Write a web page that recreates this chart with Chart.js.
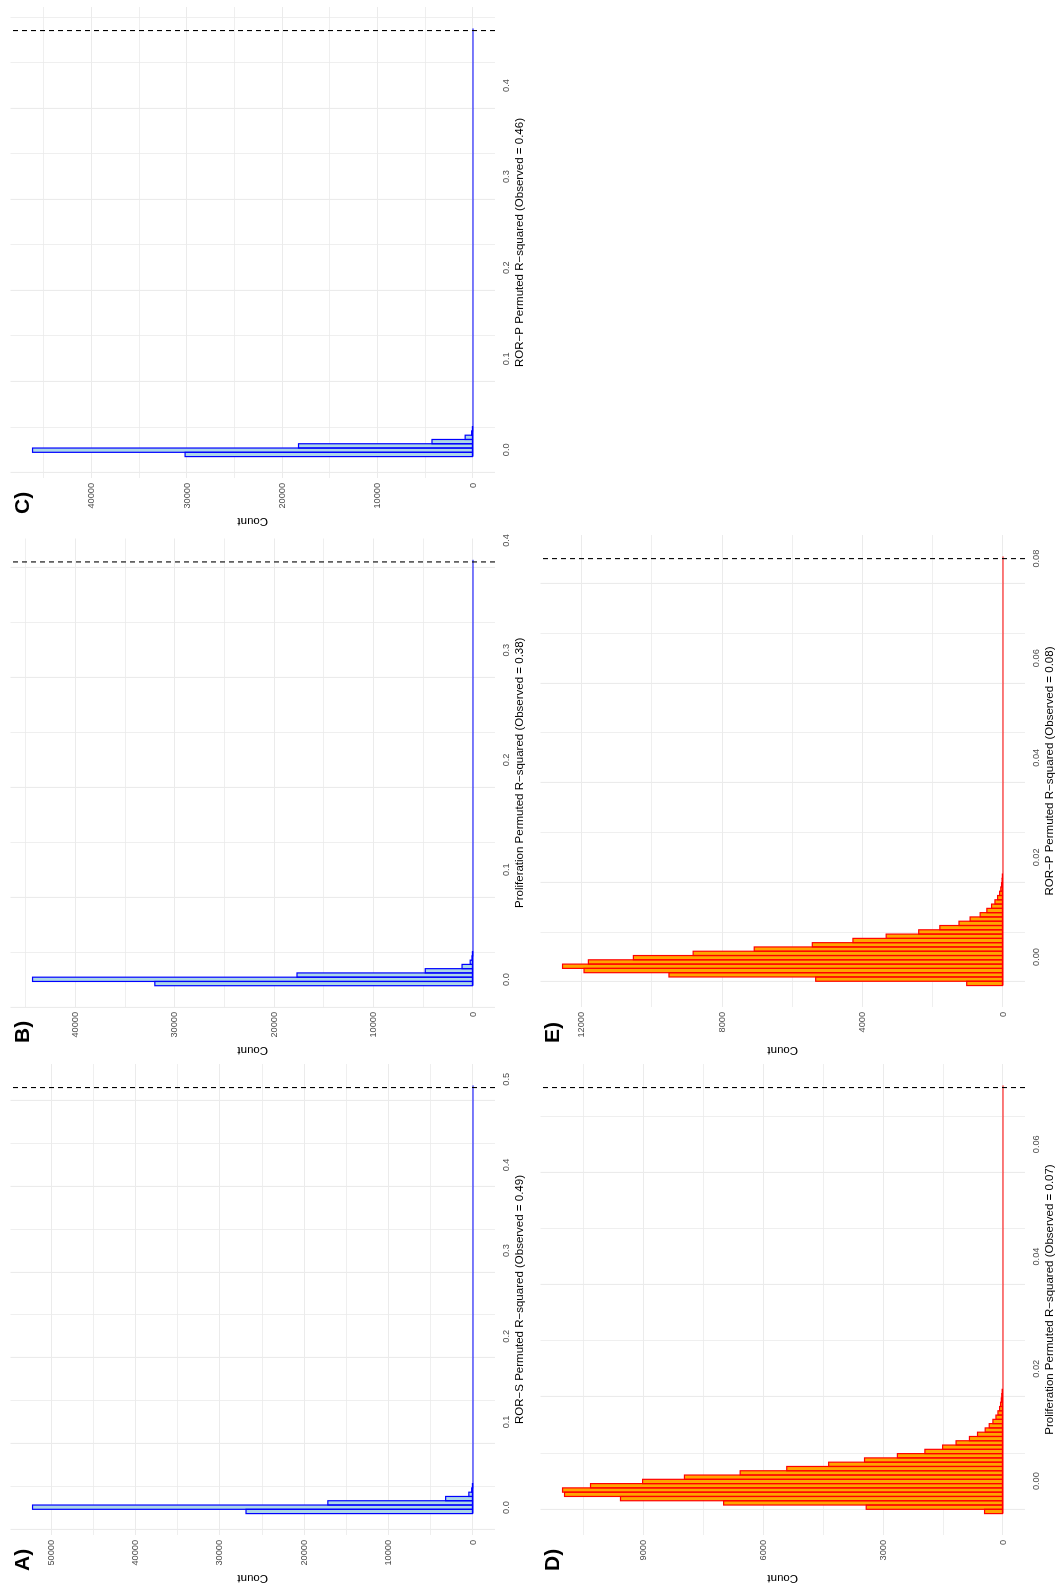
<!DOCTYPE html>
<html>
<head>
<meta charset="utf-8">
<script src="https://cdn.jsdelivr.net/npm/chart.js@4.4.0/dist/chart.umd.min.js"></script>
<style>
html,body{margin:0;padding:0;background:#fff;}
body{width:1061px;height:1585px;overflow:hidden;position:relative;}
#land{position:absolute;left:0;top:0;width:1585px;height:1061px;transform-origin:0 0;transform:translateY(1585px) rotate(-90deg);background:#fff;}
.panel{position:absolute;}
canvas{display:block;}
</style>
</head>
<body>
<div id="land">
  <div class="panel" style="left:0px;top:0px;width:528px;height:531px"><canvas id="cA" width="528" height="531"></canvas></div>
  <div class="panel" style="left:528px;top:0px;width:529px;height:531px"><canvas id="cB" width="529" height="531"></canvas></div>
  <div class="panel" style="left:1057px;top:0px;width:528px;height:531px"><canvas id="cC" width="528" height="531"></canvas></div>
  <div class="panel" style="left:0px;top:530px;width:528px;height:531px"><canvas id="cD" width="528" height="531"></canvas></div>
  <div class="panel" style="left:528px;top:530px;width:529px;height:531px"><canvas id="cE" width="529" height="531"></canvas></div>
</div>
<script>
// ---------------- DATA ----------------
const panelLabels = ['A)', 'B)', 'C)', 'D)', 'E)'];
const xTitles = [
  'ROR\u2212S Permuted R\u2212squared (Observed = 0.49)',
  'Proliferation Permuted R\u2212squared (Observed = 0.38)',
  'ROR\u2212P Permuted R\u2212squared (Observed = 0.46)',
  'Proliferation Permuted R\u2212squared (Observed = 0.07)',
  'ROR\u2212P Permuted R\u2212squared (Observed = 0.08)'
];
const yTitle = 'Count';

// observed R-squared (dashed line) per panel
const observed = [0.4904, 0.3804, 0.4604, 0.0701, 0.0800];
// histogram bins: centre of first bin and bin width (100 bins up to the observed value)
const firstBinCenter = [-0.0045, -0.0037, -0.0051, -0.0054, -0.0053];
const binWidth = [0.0050, 0.00388, 0.0047, 0.000763, 0.000861];

// counts per bin (remaining bins up to the observed value are empty / too small to see)
const countsA = [26900, 52200, 17200, 3240, 490, 150, 40];
const countsB = [32000, 44300, 17700, 4800, 1100, 280, 100, 30];
const countsC = [30200, 46200, 18300, 4300, 820, 140, 40];
const countsD = [461, 3422, 6990, 9570, 10970, 11020, 10320, 9017, 7970, 6576,
                 5410, 4362, 3464, 2642, 1954, 1510, 1174, 839, 637, 445,
                 344, 252, 176, 126, 84, 60, 42, 30, 20];
const countsE = [1033, 5335, 9514, 11933, 12545, 11809, 10527, 8825, 7085, 5431,
                 4274, 3327, 2400, 1798, 1253, 937, 650, 459, 325, 229,
                 153, 96, 62, 40, 26, 17];

// axis tick values
const xTicksA = [0.0, 0.1, 0.2, 0.3, 0.4, 0.5];
const xTicksB = [0.0, 0.1, 0.2, 0.3, 0.4];
const xTicksC = [0.0, 0.1, 0.2, 0.3, 0.4];
const xTicksD = [0.00, 0.02, 0.04, 0.06];
const xTicksE = [0.00, 0.02, 0.04, 0.06, 0.08];
const xDecimals = [1, 1, 1, 2, 2];
const yTicksA = [0, 10000, 20000, 30000, 40000, 50000];
const yTicksB = [0, 10000, 20000, 30000, 40000];
const yTicksC = [0, 10000, 20000, 30000, 40000];
const yTicksD = [0, 3000, 6000, 9000];
const yTicksE = [0, 4000, 8000, 12000];

// ---------------- STYLE ----------------
const FONT = '"Liberation Sans", Arial, Helvetica, sans-serif';
const blueFill = '#ADD8E6', blueLine = '#0000FF';
const orangeFill = '#FFA500', redLine = '#FF0000';
const gridColor = '#EBEBEB';

const labelPlugin = {
  id: 'panelLabel',
  afterDraw(chart, args, opts) {
    const ctx = chart.ctx;
    ctx.save();
    ctx.font = 'bold 21px ' + FONT;
    ctx.fillStyle = '#000';
    ctx.textAlign = 'left';
    ctx.textBaseline = 'alphabetic';
    ctx.fillText(opts.text, 14, 29);
    ctx.restore();
  }
};

// outline each histogram bar with a stroke centred on its edges (like ggplot)
const outlinePlugin = {
  id: 'barOutline',
  afterDatasetDraw(chart, args, opts) {
    const meta = args.meta;
    if (meta.type !== 'bar') return;
    const ctx = chart.ctx;
    ctx.save();
    ctx.strokeStyle = opts.color;
    ctx.lineWidth = opts.width;
    meta.data.forEach(el => {
      const p = el.getProps(['x', 'y', 'base', 'width'], true);
      ctx.strokeRect(p.x - p.width / 2, p.y, p.width, p.base - p.y);
    });
    ctx.restore();
  }
};

function round9(v) { return Math.round(v * 1e9) / 1e9; }
function withMinor(majors, lo, hi) {
  const step = majors[1] - majors[0];
  const set = new Set();
  majors.forEach(m => {
    [m - step / 2, m, m + step / 2].forEach(v => {
      const r = round9(v);
      if (r >= lo && r <= hi) set.add(r);
    });
  });
  return Array.from(set).sort((a, b) => a - b);
}
function isMajor(v, majors) { return majors.some(m => Math.abs(m - v) < 1e-9); }

function makePanel(idx, canvasId, counts, xTicks, yTicks, fill, stroke) {
  const c0 = firstBinCenter[idx], w = binWidth[idx], obs = observed[idx];
  const bars = counts.map((c, i) => ({ x: c0 + i * w, y: c }));
  const firstEdge = c0 - w / 2, lastEdge = obs + w / 2;
  const span = lastEdge - firstEdge;
  const xMin = firstEdge - 0.05 * span, xMax = lastEdge + 0.05 * span;
  const maxC = Math.max(...counts);
  const yMin = -0.05 * maxC, yMax = 1.05 * maxC;
  const xAll = withMinor(xTicks, xMin, xMax);
  const yAll = withMinor(yTicks, yMin, yMax);
  const dec = xDecimals[idx];

  new Chart(document.getElementById(canvasId), {
    type: 'bar',
    data: {
      datasets: [
        { type: 'line', data: [{ x: obs, y: yMin }, { x: obs, y: yMax }],
          borderColor: '#000', borderWidth: 1.1, borderDash: [5, 4],
          pointRadius: 0, fill: false, tension: 0 },
        { type: 'line', data: [{ x: firstEdge, y: 0 }, { x: lastEdge, y: 0 }],
          borderColor: stroke, borderWidth: 1.2, pointRadius: 0, fill: false, tension: 0 },
        { type: 'bar', data: bars, backgroundColor: fill, borderWidth: 0,
          inflateAmount: 0, barPercentage: 1.0, categoryPercentage: 1.0 }
      ]
    },
    options: {
      responsive: false,
      animation: false,
      devicePixelRatio: 1,
      layout: { padding: { left: 0, top: 7, right: 7, bottom: 0 } },
      plugins: { legend: { display: false }, tooltip: { enabled: false },
                 panelLabel: { text: panelLabels[idx] },
                 barOutline: { color: stroke, width: 1.2 } },
      scales: {
        x: {
          type: 'linear', min: xMin, max: xMax, offset: false,
          afterBuildTicks: s => { s.ticks = xAll.map(v => ({ value: v })); },
          afterFit: s => { s.height = 36; },
          ticks: { autoSkip: false, maxRotation: 0, minRotation: 0, padding: 6,
                   color: '#4D4D4D', font: { family: FONT, size: 9.2 },
                   callback: v => isMajor(v, xTicks) ? Number(v).toFixed(dec) : '' },
          grid: { color: gridColor, drawTicks: false,
                  lineWidth: c => (c.tick && isMajor(c.tick.value, xTicks)) ? 1.1 : 0.8 },
          border: { display: false },
          title: { display: true, text: xTitles[idx], color: '#000',
                   font: { family: FONT, size: 11.5 }, padding: { top: 0, bottom: 4 } }
        },
        y: {
          type: 'linear', min: yMin, max: yMax,
          afterBuildTicks: s => { s.ticks = yAll.map(v => ({ value: v })); },
          afterFit: s => { s.width = 50; },
          ticks: { autoSkip: false, padding: 5, color: '#4D4D4D',
                   font: { family: FONT, size: 9.2 },
                   callback: v => isMajor(v, yTicks) ? String(v) : '' },
          grid: { color: gridColor, drawTicks: false,
                  lineWidth: c => (c.tick && isMajor(c.tick.value, yTicks)) ? 1.1 : 0.8 },
          border: { display: false },
          title: { display: true, text: yTitle, color: '#000',
                   font: { family: FONT, size: 11.5 }, padding: { top: 0, bottom: 0 } }
        }
      }
    },
    plugins: [labelPlugin, outlinePlugin]
  });
}

makePanel(0, 'cA', countsA, xTicksA, yTicksA, blueFill, blueLine);
makePanel(1, 'cB', countsB, xTicksB, yTicksB, blueFill, blueLine);
makePanel(2, 'cC', countsC, xTicksC, yTicksC, blueFill, blueLine);
makePanel(3, 'cD', countsD, xTicksD, yTicksD, orangeFill, redLine);
makePanel(4, 'cE', countsE, xTicksE, yTicksE, orangeFill, redLine);
</script>
</body>
</html>
